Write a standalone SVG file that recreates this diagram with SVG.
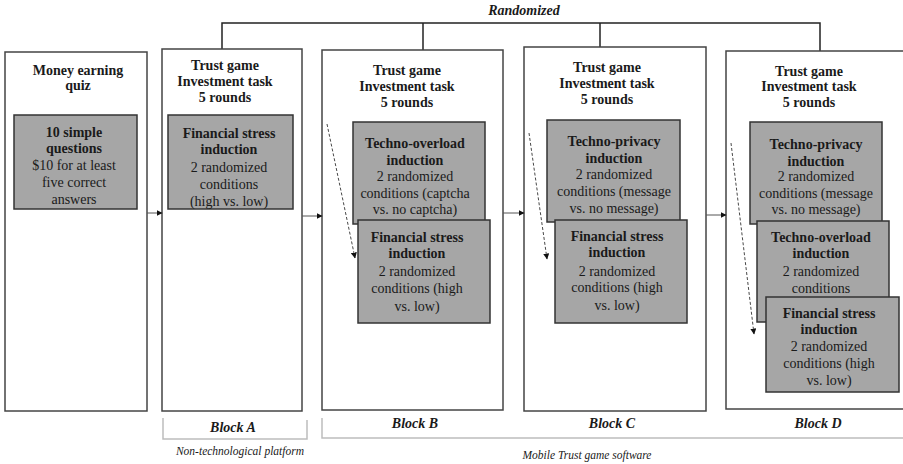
<svg xmlns="http://www.w3.org/2000/svg" width="903" height="464" viewBox="0 0 903 464">
  <defs>
    <marker id="arrow" viewBox="0 0 10 10" refX="9" refY="5" markerWidth="6" markerHeight="6" orient="auto" markerUnits="userSpaceOnUse">
      <path d="M0,0 L10,5 L0,10 z" fill="#111"/>
    </marker>
    <style>
      .panel { fill: #fff; stroke: #444; stroke-width: 1.5; }
      .box { fill: #a6a6a6; stroke: #333; stroke-width: 1.5; }
      .link { fill: none; stroke: #555; stroke-width: 1; marker-end: url(#arrow); }
      .dash { fill: none; stroke: #333; stroke-width: 0.9; stroke-dasharray: 3 2; marker-end: url(#arrow); }
      .tree { fill: none; stroke: #222; stroke-width: 1.5; }
      .bracket { fill: none; stroke: #bdbdbd; stroke-width: 1.5; }
      text { font-family: "Liberation Serif", "Times New Roman", serif; fill: #1a1a1a; text-anchor: middle; }
      .h { font-size: 14px; font-weight: bold; }
      .b { font-size: 14px; }
      .lab { font-size: 14px; font-weight: bold; font-style: italic; }
      .note { font-size: 11.5px; font-style: italic; }
    </style>
  </defs>

  <!-- randomisation bracket over blocks A-D -->
  <g id="randomized">
    <path class="tree" d="M222,49 V23 H820 V51"/>
    <path class="tree" d="M423,23 V50"/>
    <path class="tree" d="M600,23 V47"/>
    <text class="lab" x="524" y="15">Randomized</text>
  </g>

  <!-- quiz -->
  <g id="quiz">
    <rect class="panel" x="5" y="52" width="142" height="359"/>
    <text class="h" x="78" y="75">Money earning</text>
    <text class="h" x="78" y="90">quiz</text>
  </g>
  <g id="quiz-questions">
    <rect class="box" x="14" y="115" width="123" height="94"/>
    <text class="h" x="74" y="137">10 simple</text>
    <text class="h" x="74" y="153">questions</text>
    <text class="b" x="74" y="170">$10 for at least</text>
    <text class="b" x="74" y="187">five correct</text>
    <text class="b" x="74" y="204">answers</text>
  </g>

  <!-- block A -->
  <g id="block-a">
    <rect class="panel" x="162" y="49" width="140" height="362"/>
    <text class="h" x="225" y="70">Trust game</text>
    <text class="h" x="225" y="86">Investment task</text>
    <text class="h" x="225" y="102">5 rounds</text>
  </g>
  <g id="a-financial">
    <rect class="box" x="168" y="115" width="125" height="94"/>
    <text class="h" x="229" y="138">Financial stress</text>
    <text class="h" x="229" y="154">induction</text>
    <text class="b" x="229" y="172">2 randomized</text>
    <text class="b" x="229" y="189">conditions</text>
    <text class="b" x="229" y="206">(high vs. low)</text>
  </g>

  <!-- block B -->
  <g id="block-b">
    <rect class="panel" x="322" y="50" width="181" height="360"/>
    <text class="h" x="407" y="75">Trust game</text>
    <text class="h" x="407" y="91">Investment task</text>
    <text class="h" x="407" y="107">5 rounds</text>
  </g>
  <g id="b-overload">
    <rect class="box" x="353" y="122" width="132" height="102"/>
    <text class="h" x="415" y="148">Techno-overload</text>
    <text class="h" x="415" y="165">induction</text>
    <text class="b" x="415" y="181">2 randomized</text>
    <text class="b" x="415" y="198">conditions (captcha</text>
    <text class="b" x="415" y="214">vs. no captcha)</text>
  </g>
  <g id="b-financial">
    <rect class="box" x="358" y="220" width="132" height="103"/>
    <text class="h" x="417" y="242">Financial stress</text>
    <text class="h" x="417" y="258">induction</text>
    <text class="b" x="417" y="276">2 randomized</text>
    <text class="b" x="417" y="293">conditions (high</text>
    <text class="b" x="417" y="311">vs. low)</text>
  </g>

  <!-- block C -->
  <g id="block-c">
    <rect class="panel" x="524" y="47" width="182" height="364"/>
    <text class="h" x="607" y="72">Trust game</text>
    <text class="h" x="607" y="88">Investment task</text>
    <text class="h" x="607" y="104">5 rounds</text>
  </g>
  <g id="c-privacy">
    <rect class="box" x="547" y="120" width="133" height="102"/>
    <text class="h" x="614" y="146">Techno-privacy</text>
    <text class="h" x="614" y="163">induction</text>
    <text class="b" x="614" y="179">2 randomized</text>
    <text class="b" x="614" y="196">conditions (message</text>
    <text class="b" x="614" y="213">vs. no message)</text>
  </g>
  <g id="c-financial">
    <rect class="box" x="555" y="220" width="132" height="103"/>
    <text class="h" x="617" y="241">Financial stress</text>
    <text class="h" x="617" y="257">induction</text>
    <text class="b" x="617" y="276">2 randomized</text>
    <text class="b" x="617" y="292">conditions (high</text>
    <text class="b" x="617" y="310">vs. low)</text>
  </g>

  <!-- block D -->
  <g id="block-d">
    <rect class="panel" x="726" y="51" width="190" height="358"/>
    <text class="h" x="809" y="76">Trust game</text>
    <text class="h" x="809" y="91">Investment task</text>
    <text class="h" x="809" y="107">5 rounds</text>
  </g>
  <g id="d-privacy">
    <rect class="box" x="750" y="122" width="132" height="102"/>
    <text class="h" x="816" y="149">Techno-privacy</text>
    <text class="h" x="816" y="166">induction</text>
    <text class="b" x="816" y="181">2 randomized</text>
    <text class="b" x="816" y="198">conditions (message</text>
    <text class="b" x="816" y="214">vs. no message)</text>
  </g>
  <g id="d-overload">
    <rect class="box" x="757" y="221" width="132" height="101"/>
    <text class="h" x="821" y="242">Techno-overload</text>
    <text class="h" x="821" y="258">induction</text>
    <text class="b" x="821" y="276">2 randomized</text>
    <text class="b" x="821" y="293">conditions</text>
  </g>
  <g id="d-financial">
    <rect class="box" x="766" y="297" width="133" height="95"/>
    <text class="h" x="829" y="318">Financial stress</text>
    <text class="h" x="829" y="334">induction</text>
    <text class="b" x="829" y="351">2 randomized</text>
    <text class="b" x="829" y="368">conditions (high</text>
    <text class="b" x="829" y="385">vs. low)</text>
  </g>

  <!-- connectors -->
  <g id="connectors">
    <path class="link" d="M147,213 H162"/>
    <path class="link" d="M302,216 H322"/>
    <path class="link" d="M503,213 H524"/>
    <path class="link" d="M706,215 H726"/>
    <path class="dash" d="M327,124 L355,258"/>
    <path class="dash" d="M529,133 L547,259"/>
    <path class="dash" d="M731,143 L754,334"/>
  </g>

  <!-- block labels and platform brackets -->
  <g id="labels">
    <text class="lab" x="233" y="432">Block A</text>
    <text class="lab" x="415" y="428">Block B</text>
    <text class="lab" x="612" y="428">Block C</text>
    <text class="lab" x="818" y="428">Block D</text>
    <path class="bracket" d="M163,418 V439 H307 V420"/>
    <path class="bracket" d="M322,418 V438 H903"/>
    <text class="note" x="240" y="455">Non-technological platform</text>
    <text class="note" x="587" y="459">Mobile Trust game software</text>
  </g>
</svg>
